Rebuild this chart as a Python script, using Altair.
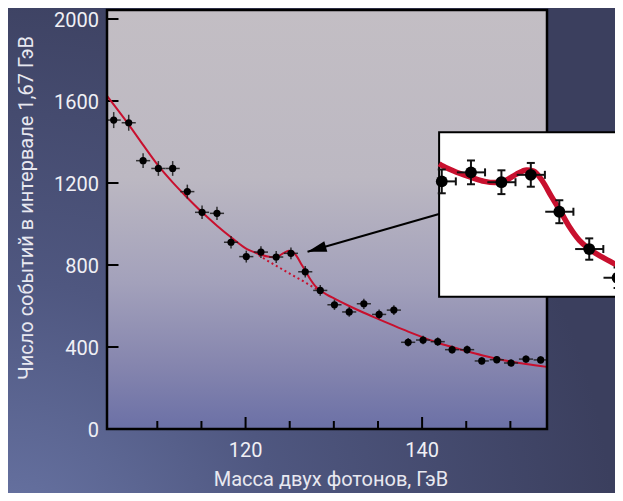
import altair as alt
import pandas as pd

# ---------------- data ----------------
mass = [105.06, 106.76, 108.39, 110.12, 111.74, 113.40, 115.07, 116.76, 118.35, 120.08,
        121.74, 123.47, 125.14, 126.76, 128.46, 130.07, 131.74, 133.40, 135.13, 136.80,
        138.42, 140.11, 141.77, 143.40, 145.10, 146.76, 148.46, 150.08, 151.77, 153.43]
events = [1507, 1494, 1309, 1271, 1271, 1158, 1057, 1052, 911, 841,
          863, 839, 857, 767, 676, 606, 571, 611, 559, 580,
          423, 434, 426, 387, 387, 332, 338, 322, 341, 337]
events_err = [39, 39, 36, 36, 36, 34, 33, 32, 30, 29,
              29, 29, 29, 28, 26, 25, 24, 25, 24, 24,
              21, 21, 21, 20, 20, 18, 18, 18, 18, 18]
bin_half = 0.8

fit_mass = [104.30, 106.76, 108.45, 110.15, 111.74, 113.40, 115.07, 116.76, 118.46, 119.93,
            120.16, 121.00, 121.80, 122.50, 123.10, 123.70, 124.30, 124.90, 125.30, 125.80,
            126.30, 126.84, 127.35, 127.90, 128.46, 129.20, 130.07, 131.74, 133.40, 135.13,
            136.80, 138.42, 140.11, 141.77, 143.40, 145.10, 146.76, 148.46, 150.08, 151.77, 154.15]
fit_events = [1625, 1485, 1382, 1282, 1203, 1128, 1057, 992, 932, 884,
              878, 862, 850, 841, 838, 843, 858, 869, 866, 842,
              805, 767, 729, 697, 676, 656, 636, 600, 567, 535,
              504, 475, 447, 421, 400, 379, 360, 343, 329, 317, 303]

bg_mass = [121.50, 122.04, 123.00, 124.00, 125.00, 126.00, 127.00, 128.10]
bg_events = [848, 833, 808, 783, 758, 734, 709, 681]

y_tick_values = [0, 400, 800, 1200, 1600, 2000]
x_major_ticks = [120, 140]
x_minor_ticks = [110, 115, 125, 130, 135, 145, 150]
y_title = "Число событий в интервале 1,67 ГэВ"
x_title = "Масса двух фотонов, ГэВ"

arrow_start = [141.92, 1049]
arrow_tip = [127.02, 865]

inset_range = [119.93, 130.5]
inset_box_x = [119.93, 140.0]
inset_box_y = [559.8, 960.7]

# ---------------- layout ----------------
W, H = 440, 419
X_DOM = [104.30, 154.15]
Y_DOM = [0, 2044]
INSET_X_DOM = [101.06, 126.06]
INSET_Y_DOM = [237.1, 1259.0]
FONT = "Roboto"
RED = "#c8102e"
TXT = "#f0f0f5"

pts = pd.DataFrame({"m": mass, "n": events, "e": events_err})
pts["n_lo"] = pts["n"] - pts["e"]
pts["n_hi"] = pts["n"] + pts["e"]
pts["m_lo"] = pts["m"] - bin_half
pts["m_hi"] = pts["m"] + bin_half

fit = pd.DataFrame({"m": fit_mass, "n": fit_events})
bg = pd.DataFrame({"m": bg_mass, "n": bg_events})

xs = alt.Scale(domain=X_DOM, nice=False, zero=False)
ys = alt.Scale(domain=Y_DOM, nice=False, zero=False)
ixs = alt.Scale(domain=INSET_X_DOM, nice=False, zero=False)
iys = alt.Scale(domain=INSET_Y_DOM, nice=False, zero=False)

one = pd.DataFrame({"k": [0]})

outer_grad = {"gradient": "radial", "x1": 0, "y1": 1, "x2": 0, "y2": 1, "r1": 0, "r2": 1.0,
              "stops": [{"offset": 0, "color": "#6a76a6"},
                        {"offset": 0.45, "color": "#4f5780"},
                        {"offset": 1, "color": "#3b3f5e"}]}
plot_grad = {"gradient": "linear", "x1": 0, "y1": 0, "x2": 0, "y2": 1,
             "stops": [{"offset": 0, "color": "#c3bec4"},
                       {"offset": 0.4, "color": "#bcb8c2"},
                       {"offset": 0.65, "color": "#a3a1bb"},
                       {"offset": 0.85, "color": "#8585ae"},
                       {"offset": 1, "color": "#6b70a6"}]}

outer_bg = alt.Chart(one).mark_rect(fill=outer_grad, strokeWidth=0).encode(
    x=alt.value(-99), x2=alt.value(508), y=alt.value(-2), y2=alt.value(483))
plot_bg = alt.Chart(one).mark_rect(fill=plot_grad, strokeWidth=0).encode(
    x=alt.value(0), x2=alt.value(W), y=alt.value(0), y2=alt.value(H))

ytick_df = pd.DataFrame({"v": y_tick_values, "lab": [str(v) for v in y_tick_values]})
xtick_df = pd.DataFrame({"v": x_major_ticks, "lab": [str(v) for v in x_major_ticks]})

y_ticks = alt.Chart(ytick_df).mark_rule(color="black", strokeWidth=2).encode(
    y=alt.Y("v:Q", scale=ys, axis=None), x=alt.value(0), x2=alt.value(11.5))
y_labels = alt.Chart(ytick_df).mark_text(
    font=FONT, fontSize=20, color=TXT, align="right", baseline="middle", dy=2).encode(
    y=alt.Y("v:Q", scale=ys, axis=None), x=alt.value(-8), text="lab:N")

x_major = alt.Chart(xtick_df).mark_rule(color="black", strokeWidth=2).encode(
    x=alt.X("v:Q", scale=xs, axis=None), y=alt.value(H), y2=alt.value(H - 12))
x_labels = alt.Chart(xtick_df).mark_text(
    font=FONT, fontSize=20, color=TXT, align="center", baseline="alphabetic").encode(
    x=alt.X("v:Q", scale=xs, axis=None), y=alt.value(H + 28), text="lab:N")
x_minor = alt.Chart(pd.DataFrame({"v": x_minor_ticks})).mark_rule(color="black", strokeWidth=2).encode(
    x=alt.X("v:Q", scale=xs, axis=None), y=alt.value(H), y2=alt.value(H - 8))

y_title_mark = alt.Chart(one).mark_text(
    font=FONT, fontSize=20, color="#e8e8f0", align="center", baseline="middle", angle=270).encode(
    x=alt.value(-80), y=alt.value(198), text=alt.value(y_title))
x_title_mark = alt.Chart(one).mark_text(
    font=FONT, fontSize=20, color="#e8e8f0", align="center", baseline="alphabetic").encode(
    x=alt.value(224), y=alt.value(476), text=alt.value(x_title))

frame = alt.Chart(one).mark_rect(fill="transparent", stroke="black", strokeWidth=2.5).encode(
    x=alt.value(0), x2=alt.value(W), y=alt.value(0), y2=alt.value(H))

bg_line = alt.Chart(bg).mark_line(color=RED, strokeWidth=2, strokeDash=[2, 3], interpolate="monotone").encode(
    x=alt.X("m:Q", scale=xs, axis=None), y=alt.Y("n:Q", scale=ys, axis=None))
fit_line = alt.Chart(fit).mark_line(color=RED, strokeWidth=2, interpolate="monotone").encode(
    x=alt.X("m:Q", scale=xs, axis=None), y=alt.Y("n:Q", scale=ys, axis=None))

ebar_v = alt.Chart(pts).mark_rule(color="#1a1a1a", strokeWidth=1.5, opacity=0.85).encode(
    x=alt.X("m:Q", scale=xs, axis=None), y=alt.Y("n_lo:Q", scale=ys, axis=None), y2="n_hi:Q")
ebar_h = alt.Chart(pts).mark_rule(color="#1a1a1a", strokeWidth=1.5, opacity=0.85).encode(
    x=alt.X("m_lo:Q", scale=xs, axis=None), x2="m_hi:Q", y=alt.Y("n:Q", scale=ys, axis=None))
dots = alt.Chart(pts).mark_circle(color="black", size=52, opacity=1).encode(
    x=alt.X("m:Q", scale=xs, axis=None), y=alt.Y("n:Q", scale=ys, axis=None))

arrow_df = pd.DataFrame({"x0": [arrow_start[0]], "y0": [arrow_start[1]],
                         "x1": [arrow_tip[0]], "y1": [arrow_tip[1]]})
arrow_line = alt.Chart(arrow_df).mark_rule(color="black", strokeWidth=2).encode(
    x=alt.X("x0:Q", scale=xs, axis=None), y=alt.Y("y0:Q", scale=ys, axis=None), x2="x1:Q", y2="y1:Q")
arrow_head = alt.Chart(arrow_df).mark_point(
    shape="M0,0L1.9,-0.55L1.9,0.55Z", filled=True, color="black", opacity=1, size=400, angle=344).encode(
    x=alt.X("x1:Q", scale=xs, axis=None), y=alt.Y("y1:Q", scale=ys, axis=None))

main = alt.layer(outer_bg, plot_bg, y_ticks, y_labels, x_major, x_labels, x_minor,
                 y_title_mark, x_title_mark, bg_line, fit_line,
                 ebar_v, ebar_h, dots, frame, arrow_line, arrow_head)

# ---------------- inset (2x zoom) ----------------
ipts = pts[(pts["m"] >= inset_range[0]) & (pts["m"] <= inset_range[1])].copy()
ipts["m_lo"] = ipts["m_lo"].clip(lower=inset_box_x[0])
ifit = fit[(fit["m"] >= inset_range[0]) & (fit["m"] <= inset_range[1])]

box_df = pd.DataFrame({"x0": [inset_box_x[0]], "x1": [inset_box_x[1]],
                       "y0": [inset_box_y[0]], "y1": [inset_box_y[1]]})
inset_box = alt.Chart(box_df).mark_rect(fill="white", stroke="black", strokeWidth=2).encode(
    x=alt.X("x0:Q", scale=ixs, axis=None), x2="x1:Q",
    y=alt.Y("y0:Q", scale=iys, axis=None), y2="y1:Q")
inset_fit = alt.Chart(ifit).mark_line(color=RED, strokeWidth=5.5, interpolate="monotone").encode(
    x=alt.X("m:Q", scale=ixs, axis=None), y=alt.Y("n:Q", scale=iys, axis=None))
iv = alt.Chart(ipts).mark_rule(color="#111", strokeWidth=2).encode(
    x=alt.X("m:Q", scale=ixs, axis=None), y=alt.Y("n_lo:Q", scale=iys, axis=None), y2="n_hi:Q")
ih = alt.Chart(ipts).mark_rule(color="#111", strokeWidth=2).encode(
    x=alt.X("m_lo:Q", scale=ixs, axis=None), x2="m_hi:Q", y=alt.Y("n:Q", scale=iys, axis=None))
cap_top = alt.Chart(ipts).mark_tick(color="#111", orient="horizontal", size=8, thickness=2, opacity=1).encode(
    x=alt.X("m:Q", scale=ixs, axis=None), y=alt.Y("n_hi:Q", scale=iys, axis=None))
cap_bot = alt.Chart(ipts).mark_tick(color="#111", orient="horizontal", size=8, thickness=2, opacity=1).encode(
    x=alt.X("m:Q", scale=ixs, axis=None), y=alt.Y("n_lo:Q", scale=iys, axis=None))
cap_right = alt.Chart(ipts).mark_tick(color="#111", orient="vertical", size=8, thickness=2, opacity=1).encode(
    x=alt.X("m_hi:Q", scale=ixs, axis=None), y=alt.Y("n:Q", scale=iys, axis=None))
idots = alt.Chart(ipts).mark_circle(color="black", size=140, opacity=1).encode(
    x=alt.X("m:Q", scale=ixs, axis=None), y=alt.Y("n:Q", scale=iys, axis=None))

inset = alt.layer(inset_box, inset_fit, iv, ih, cap_top, cap_bot, cap_right, idots)

chart = alt.layer(main, inset).resolve_scale(x="independent", y="independent").properties(
    width=W, height=H,
    padding={"left": 99, "top": 2, "right": 68, "bottom": 64},
    autosize=alt.AutoSizeParams(type="none"),
    background="#41466a",
).configure_view(strokeWidth=0)

chart.save("out.html", embed_options={"renderer": "svg", "actions": False})
